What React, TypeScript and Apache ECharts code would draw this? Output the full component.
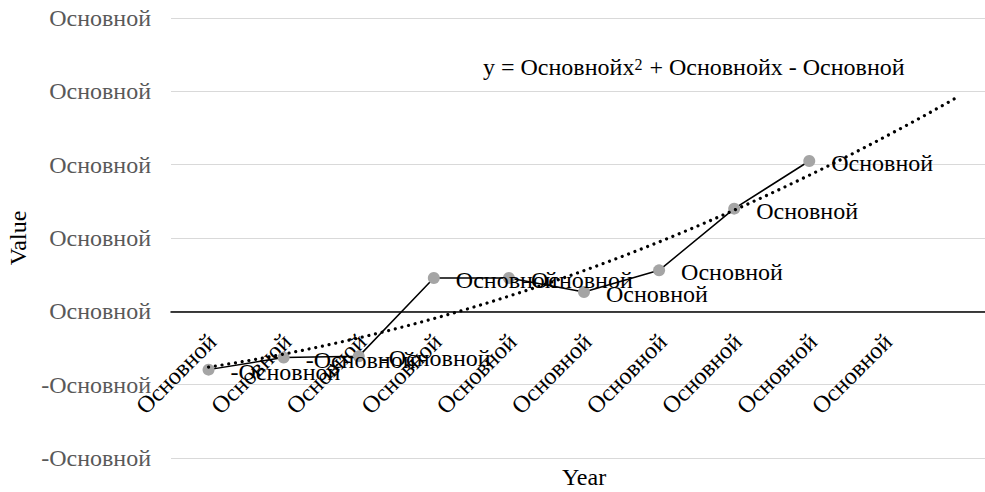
import React, { useEffect, useRef } from "react";
import * as echarts from "echarts";

const categories = [
  "Основной", "Основной", "Основной", "Основной", "Основной",
  "Основной", "Основной", "Основной", "Основной", "Основной", "",
];
const seriesValues = [-0.795, -0.631, -0.614, 0.454, 0.454, 0.263, 0.559, 1.4, 2.05];
const positiveLabel = "Основной";
const negativeLabel = "-Основной";
const yTickValues = [-2, -1, 0, 1, 2, 3, 4];
const yTickLabels = ["-Основной", "-Основной", "Основной", "Основной", "Основной", "Основной", "Основной"];
const trendForward = 2;
const titleText = "y = Основнойx{sup|2} + Основнойx - Основной";
const xAxisName = "Year";
const yAxisName = "Value";

const FONT = "Liberation Serif, serif";

const GRID_TOP = 18;
const GRID_HEIGHT = 440;

function quadFit(ys: number[]) {
  let s0 = 0, s1 = 0, s2 = 0, s3 = 0, s4 = 0, t0 = 0, t1 = 0, t2 = 0;
  ys.forEach((y, i) => {
    const x = i + 1;
    s0 += 1; s1 += x; s2 += x * x; s3 += x * x * x; s4 += x * x * x * x;
    t0 += y; t1 += x * y; t2 += x * x * y;
  });
  const M = [
    [s4, s3, s2, t2],
    [s3, s2, s1, t1],
    [s2, s1, s0, t0],
  ];
  for (let i = 0; i < 3; i++) {
    for (let j = i + 1; j < 3; j++) {
      const f = M[j][i] / M[i][i];
      for (let k = i; k < 4; k++) M[j][k] -= f * M[i][k];
    }
  }
  const r = [0, 0, 0];
  for (let i = 2; i >= 0; i--) {
    let s = M[i][3];
    for (let k = i + 1; k < 3; k++) s -= M[i][k] * r[k];
    r[i] = s / M[i][i];
  }
  return { a: r[0], b: r[1], c: r[2] };
}

export default function App() {
  const ref = useRef<HTMLDivElement>(null);
  useEffect(() => {
    if (!ref.current) return;
    const chart = echarts.init(ref.current, undefined, { renderer: "svg" });
    const { a, b, c } = quadFit(seriesValues);
    const trend: number[][] = [];
    const xEnd = seriesValues.length + trendForward;
    for (let i = 0; i <= (xEnd - 1) * 10; i++) {
      const x = 1 + i / 10;
      trend.push([x, a * x * x + b * x + c]);
    }
    const yMin = yTickValues[0];
    const yMax = yTickValues[yTickValues.length - 1];
    const zeroOffset = (GRID_HEIGHT * (0 - yMin)) / (yMax - yMin);
    chart.setOption({
      animation: false,
      textStyle: { fontFamily: FONT },
      title: {
        text: titleText,
        left: 483,
        top: 55,
        padding: 0,
        textStyle: {
          fontFamily: FONT,
          fontSize: 24,
          fontWeight: "normal",
          color: "#000",
          rich: {
            sup: { fontSize: 16, verticalAlign: "top", fontFamily: FONT, color: "#000", padding: [1, 1, 0, 0] },
          },
        },
      },
      grid: {
        left: 171, top: GRID_TOP, width: 826, height: GRID_HEIGHT,
        containLabel: false, outerBoundsMode: "none",
      },
      xAxis: [
        {
          type: "category",
          data: categories,
          boundaryGap: true,
          position: "bottom",
          offset: -zeroOffset,
          axisLine: { onZero: false, lineStyle: { color: "#000", width: 1.5 } },
          axisTick: { show: false },
          splitLine: { show: false },
          axisLabel: {
            interval: 0,
            rotate: 45,
            align: "right",
            verticalAlign: "top",
            margin: 13,
            padding: [0, 7, 0, 0],
            fontSize: 24,
            color: "#000",
            fontFamily: FONT,
            hideOverlap: false,
          },
          name: xAxisName,
          nameLocation: "middle",
          nameGap: 154,
          nameTextStyle: { fontSize: 24, color: "#000", fontFamily: FONT },
        },
        { type: "value", min: 0.5, max: 11.5, show: false },
      ],
      yAxis: {
        type: "value",
        min: yMin,
        max: yMax,
        interval: 1,
        axisLine: { show: false },
        axisTick: { show: false },
        splitLine: { lineStyle: { color: "#d9d9d9", width: 1 } },
        axisLabel: {
          margin: 20,
          fontSize: 24,
          color: "#595959",
          fontFamily: FONT,
          formatter: (v: number) => yTickLabels[yTickValues.indexOf(v)] ?? "",
        },
        name: yAxisName,
        nameLocation: "middle",
        nameRotate: 90,
        nameGap: 138,
        nameTextStyle: { fontSize: 24, color: "#000", fontFamily: FONT },
      },
      series: [
        {
          type: "line",
          xAxisIndex: 0,
          data: seriesValues,
          symbol: "circle",
          symbolSize: 12,
          itemStyle: { color: "#a5a5a5" },
          lineStyle: { color: "#000", width: 1.5 },
          z: 2,
          label: {
            show: true,
            position: "right",
            distance: 16,
            offset: [0, 2],
            fontSize: 24,
            color: "#000",
            fontFamily: FONT,
            formatter: (p: any) => (p.value < 0 ? negativeLabel : positiveLabel),
          },
        },
        {
          type: "line",
          xAxisIndex: 1,
          data: trend,
          symbol: "none",
          smooth: false,
          z: 5,
          lineStyle: { color: "#000", width: 3.2, type: [0.01, 6.8], cap: "round" },
          silent: true,
        },
      ],
    });
    return () => chart.dispose();
  }, []);
  return (
    <div
      ref={ref}
      style={{ position: "absolute", left: 0, top: 0, width: 985, height: 492 }}
    />
  );
}
